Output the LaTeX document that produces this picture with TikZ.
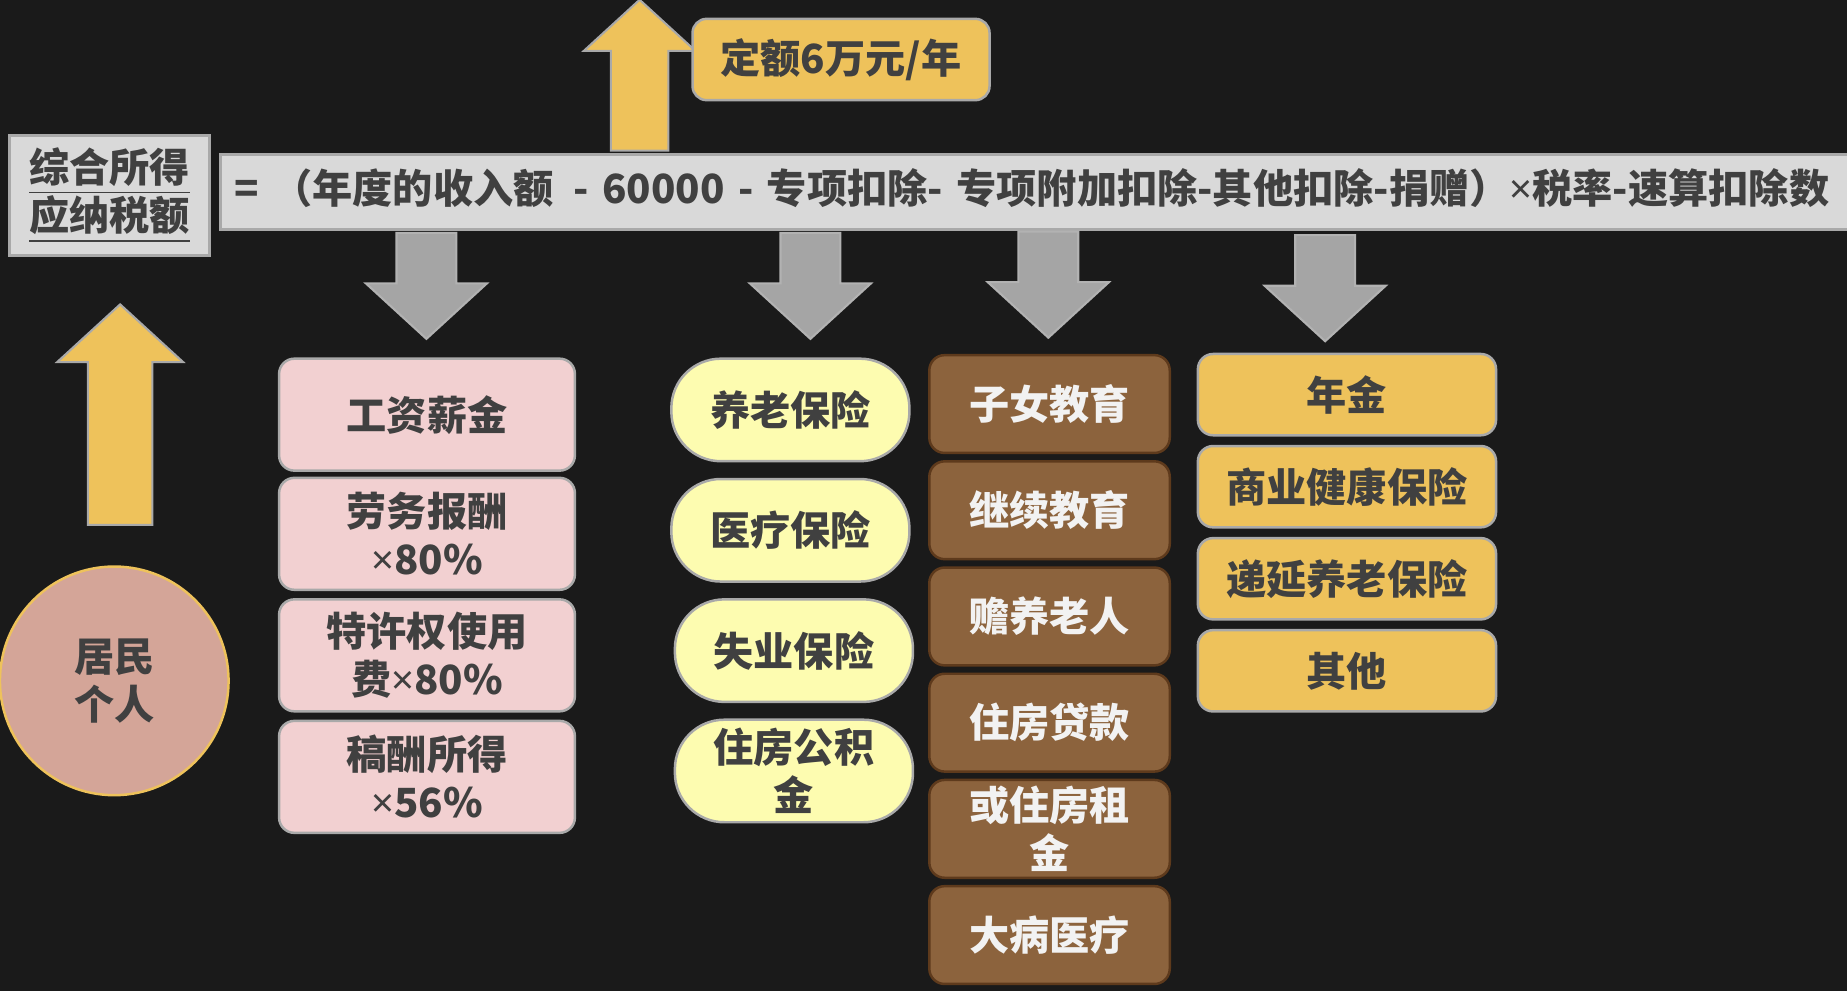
\documentclass[tikz,border=0pt]{standalone}
\usepackage{fontspec}
\setmainfont{Noto Sans CJK SC}
\newfontfamily\latinx{Noto Sans}
\newcommand\mult{{\latinx ×}}
\usetikzlibrary{positioning,shapes.arrows}

\definecolor{bgdark}{HTML}{1A1A1A}
\definecolor{textdark}{HTML}{404040}
\definecolor{barfill}{HTML}{D9D9D9}
\definecolor{edgegray}{HTML}{A9A9A9}
\definecolor{gold}{HTML}{EEC25B}
\definecolor{arrowgray}{HTML}{A5A5A5}
\definecolor{pinkfill}{HTML}{F2D0D1}
\definecolor{lemon}{HTML}{FDFCB0}
\definecolor{brownfill}{HTML}{8C633D}
\definecolor{brownedge}{HTML}{5E3A1C}
\definecolor{rosefill}{HTML}{D4A598}

\begin{document}
\begin{tikzpicture}[x=0.01cm, y=0.01cm,
  font=\fontsize{9.7pt}{11.6pt}\selectfont\bfseries,
  text=textdark, line width=0.6pt,
  item/.style={draw=edgegray, rounded corners=0.13cm, align=center, inner sep=0pt},
  income/.style={item, fill=pinkfill, minimum width=2.51cm, minimum height=0.95cm},
  insure/.style={item, fill=lemon, rounded corners=0.42cm, minimum width=2.02cm, minimum height=0.87cm},
  special/.style={item, fill=brownfill, draw=brownedge, text=white!95!black, minimum width=2.04cm, minimum height=0.83cm},
  other/.style={item, fill=gold, minimum width=2.53cm, minimum height=0.69cm},
  fatarrow/.style={single arrow, single arrow tip angle=95, line width=0.5pt},
  uparrow/.style={fatarrow, fill=gold, draw=edgegray, shape border rotate=90},
  downarrow/.style={fatarrow, fill=arrowgray, draw=gray!60, shape border rotate=270,
    minimum height=0.9cm, minimum width=1.02cm, inner sep=0.245cm, single arrow head extend=0.26cm},
]
\fill[bgdark] (0,0) rectangle (1568,-841);
\useasboundingbox (0,0) rectangle (1568,-841);

% formula line
\node[draw=edgegray, fill=barfill, minimum width=1.70cm, minimum height=1.02cm, align=center, inner sep=0pt]
  (tax) at (93,-166) {\underline{综合所得}\\\underline{应纳税额}};
\node[draw=edgegray, fill=barfill, anchor=west, minimum height=0.64cm, text width=13.8cm,
  align=left, inner xsep=0.12cm, inner ysep=0pt]
  (formula) at (186,-163) {\raisebox{0.1cm}{= （年度的收入额\enspace - 60000 - 专项扣除- 专项附加扣除-其他扣除-捐赠）\mult 税率-速算扣除数}};

% deduction and source
\node[uparrow, minimum height=1.28cm, minimum width=0.93cm, inner sep=0.235cm, single arrow head extend=0.23cm] (uptop) at (543,-75) {};
\node[item, fill=gold, rounded corners=0.12cm, minimum width=2.52cm, minimum height=0.69cm] (quota) at (714,-50.5) {定额6万元/年};
\node[uparrow, minimum height=1.87cm, minimum width=1.05cm, inner sep=0.265cm, single arrow head extend=0.26cm] (upleft) at (102,-364.5) {};
\node[circle, draw=gold, fill=rosefill, minimum size=1.94cm, align=center, inner sep=0pt] (resident) at (97,-578) {居民\\个人};

% arrows down to the columns
\node[downarrow] (down1) at (362,-231) {};
\node[downarrow] (down2) at (688,-231) {};
\node[downarrow] (down3) at (890,-230) {};
\node[downarrow] (down4) at (1125,-233) {};

% income
\node[income]                          (wage)    at (362.5,-352) {工资薪金};
\node[income, below=0.04cm of wage]    (labour)  {劳务报酬\\\mult 80\%};
\node[income, below=0.06cm of labour]  (royalty) {特许权使用\\费\mult 80\%};
\node[income, below=0.06cm of royalty] (author)  {稿酬所得\\\mult 56\%};

% special deductions
\node[insure]                                         (pension)  at (671,-348) {养老保险};
\node[insure, below=0.13cm of pension]                (medical)  {医疗保险};
\node[insure, below=0.13cm of medical, xshift=0.03cm] (jobless)  {失业保险};
\node[insure, below=0.13cm of jobless]                (fund)     {住房公积\\金};

% special additional deductions
\node[special]                           (children) at (891,-343) {子女教育};
\node[special, below=0.05cm of children] (study)    {继续教育};
\node[special, below=0.05cm of study]    (elderly)  {赡养老人};
\node[special, below=0.05cm of elderly]  (loan)     {住房贷款};
\node[special, below=0.05cm of loan]     (rent)     {或住房租\\金};
\node[special, below=0.05cm of rent]     (illness)  {大病医疗};

% other deductions
\node[other]                           (annuity)  at (1143.5,-335) {年金};
\node[other, below=0.07cm of annuity]  (health)   {商业健康保险};
\node[other, below=0.07cm of health]   (deferred) {递延养老保险};
\node[other, below=0.07cm of deferred] (misc)     {其他};
\end{tikzpicture}
\end{document}
